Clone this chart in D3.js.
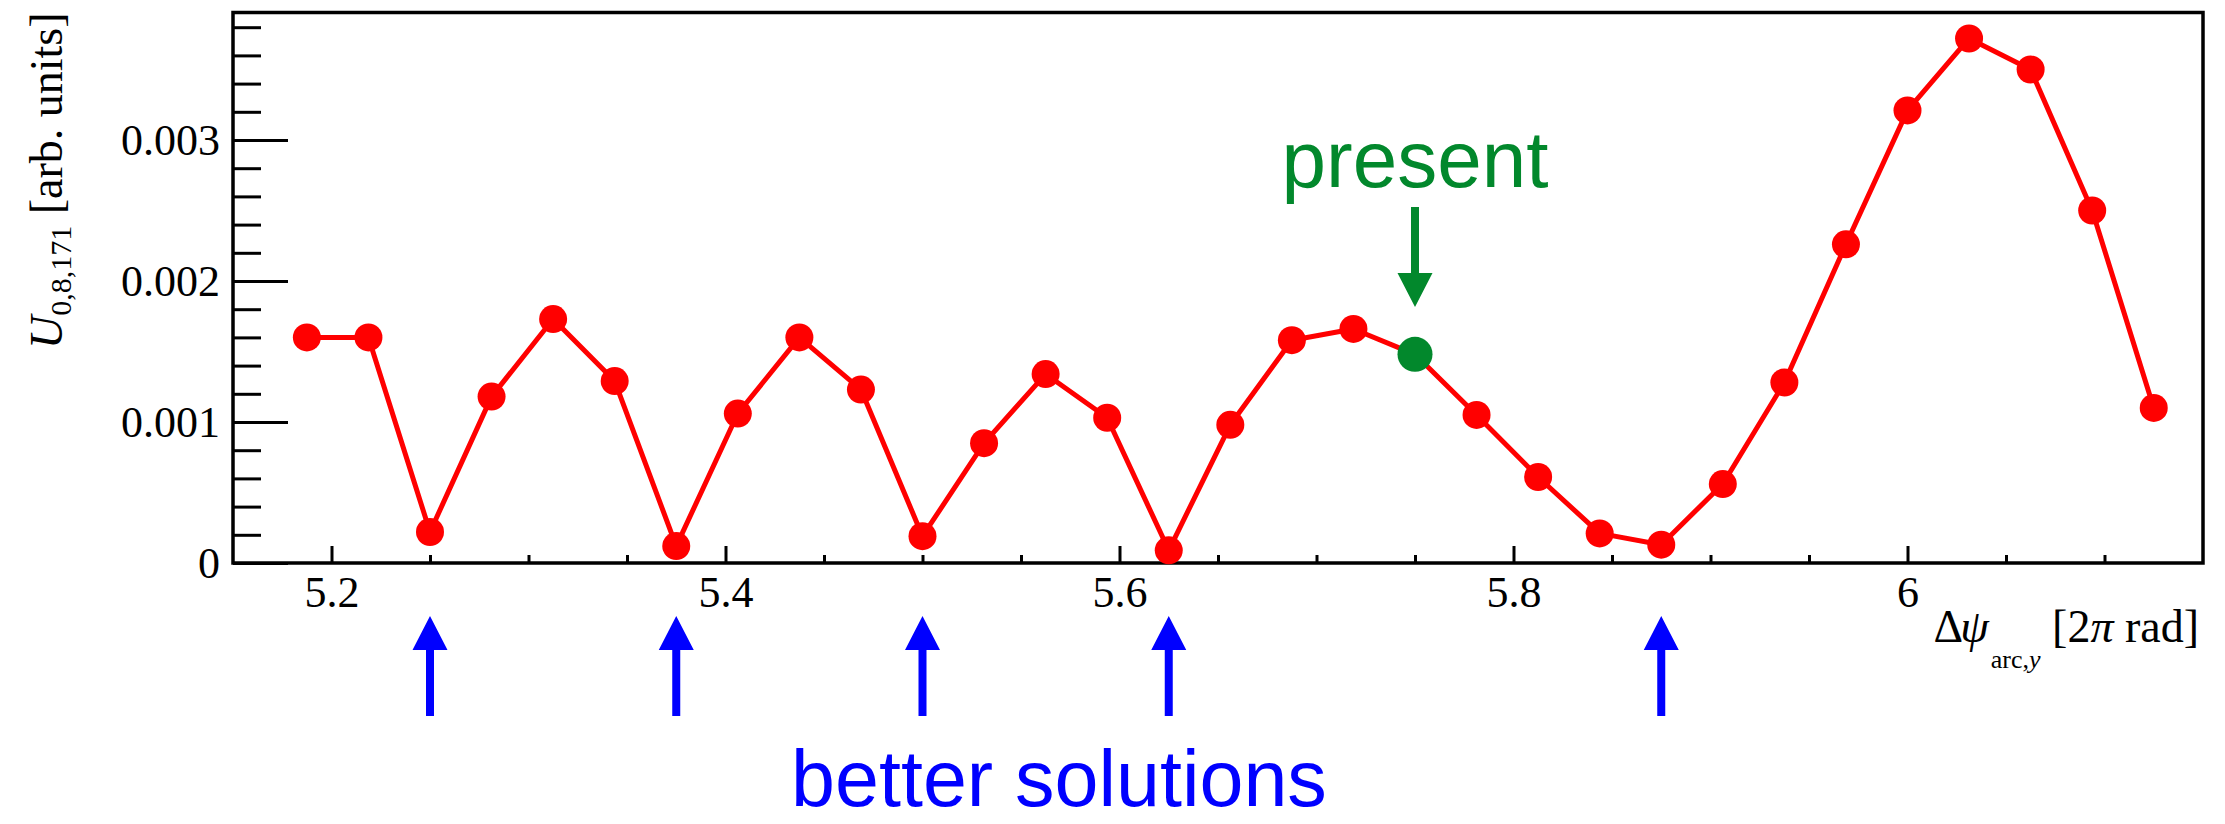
<!DOCTYPE html>
<html>
<head>
<meta charset="utf-8">
<script src="https://cdn.jsdelivr.net/npm/d3@7"></script>
<style>
  html, body { margin: 0; padding: 0; background: #ffffff; }
  svg { display: block; }
</style>
</head>
<body>
<svg id="chart" width="2225" height="824"></svg>
<script>
// Phase advance scan: amplitude of the 0,8,171 resonance driving term
const phaseAdvance = [5.1875, 5.21875, 5.25, 5.28125, 5.3125, 5.34375, 5.375, 5.40625,
  5.4375, 5.46875, 5.5, 5.53125, 5.5625, 5.59375, 5.625, 5.65625, 5.6875, 5.71875,
  5.75, 5.78125, 5.8125, 5.84375, 5.875, 5.90625, 5.9375, 5.96875, 6.0, 6.03125,
  6.0625, 6.09375, 6.125];
const drivingTerm = [0.00160, 0.00160, 0.00022, 0.00118, 0.00173, 0.00129, 0.00012, 0.00106,
  0.00160, 0.00123, 0.00019, 0.00085, 0.00134, 0.00103, 0.00009, 0.00098, 0.00158, 0.00166,
  0.00148, 0.00105, 0.00061, 0.00021, 0.00013, 0.00056, 0.00128, 0.00226, 0.00321, 0.00372,
  0.00350, 0.00250, 0.00110];

// Present working point and the lower-amplitude alternatives
const presentPhase = 5.75;
const presentTerm = 0.00148;
const betterPhases = [5.25, 5.375, 5.5, 5.625, 5.875];

// Axis ticks
const xMajorTicks = [5.2, 5.4, 5.6, 5.8, 6.0];
const xTickLabels = ["5.2", "5.4", "5.6", "5.8", "6"];
const yMajorTicks = [0, 0.001, 0.002, 0.003];
const yTickLabels = ["0", "0.001", "0.002", "0.003"];

const svg = d3.select("#chart");
const frame = { left: 233, right: 2203, top: 12.5, bottom: 563 };

const x = d3.scaleLinear().domain([5.15, 6.15]).range([frame.left, frame.right]);
const y = d3.scaleLinear().domain([0, 0.0039]).range([frame.bottom, frame.bottom - 0.0039 * 141000]);

const serif = "'Liberation Serif', 'Times New Roman', serif";
const sans = "'Liberation Sans', Arial, Helvetica, sans-serif";

// Minor ticks
const xMinor = d3.range(5.2, 6.1001, 0.05).filter(v => !xMajorTicks.some(m => Math.abs(m - v) < 1e-6));
const yMinor = d3.range(0, 0.00381, 0.0002).filter(v => !yMajorTicks.some(m => Math.abs(m - v) < 1e-9));

function styleAxis(g) {
  g.select(".domain").remove();
  g.selectAll(".tick line").attr("stroke", "#000").attr("stroke-width", 3);
}

// Bottom axis
svg.append("g")
  .attr("transform", `translate(0,${frame.bottom})`)
  .call(d3.axisBottom(x).tickValues(xMinor).tickSize(-8).tickFormat(""))
  .call(styleAxis);
const xAxisG = svg.append("g")
  .attr("transform", `translate(0,${frame.bottom})`)
  .call(d3.axisBottom(x).tickValues(xMajorTicks).tickSize(-17)
    .tickFormat((d, i) => xTickLabels[i]))
  .call(styleAxis);
xAxisG.selectAll(".tick text")
  .attr("y", 44).attr("dy", null)
  .attr("fill", "#000")
  .style("font-family", serif).style("font-size", "44px");

// Left axis
svg.append("g")
  .attr("transform", `translate(${frame.left},0)`)
  .call(d3.axisLeft(y).tickValues(yMinor).tickSize(-28).tickFormat(""))
  .call(styleAxis);
const yAxisG = svg.append("g")
  .attr("transform", `translate(${frame.left},0)`)
  .call(d3.axisLeft(y).tickValues(yMajorTicks).tickSize(-55)
    .tickFormat((d, i) => yTickLabels[i]))
  .call(styleAxis);
yAxisG.selectAll(".tick text")
  .attr("x", -13).attr("dy", "0.33em")
  .attr("fill", "#000")
  .style("font-family", serif).style("font-size", "44px");

// Frame
svg.append("rect")
  .attr("x", frame.left).attr("y", frame.top)
  .attr("width", frame.right - frame.left).attr("height", frame.bottom - frame.top)
  .attr("fill", "none").attr("stroke", "#000").attr("stroke-width", 3.5);

// Series
const points = phaseAdvance.map((p, i) => ({ p, u: drivingTerm[i] }));
const line = d3.line().x(d => x(d.p)).y(d => y(d.u));
svg.append("path")
  .datum(points)
  .attr("d", line)
  .attr("fill", "none")
  .attr("stroke", "#ff0000")
  .attr("stroke-width", 5)
  .attr("stroke-linejoin", "round");
svg.append("g").selectAll("circle")
  .data(points)
  .join("circle")
  .attr("cx", d => x(d.p)).attr("cy", d => y(d.u))
  .attr("r", 14)
  .attr("fill", "#ff0000");

// Present point
const green = "#02882c";
svg.append("circle")
  .attr("cx", x(presentPhase)).attr("cy", y(presentTerm))
  .attr("r", 17.5)
  .attr("fill", green);

// Arrow shapes: a narrow shaft with a triangular head
function arrowDown(cx, top, headBase, tip) {
  const s = 4, h = 17.5;
  return `M${cx - s},${top} L${cx + s},${top} L${cx + s},${headBase} L${cx + h},${headBase}
          L${cx},${tip} L${cx - h},${headBase} L${cx - s},${headBase} Z`;
}
function arrowUp(cx, tip, headBase, bottom) {
  const s = 4, h = 17.5;
  return `M${cx},${tip} L${cx + h},${headBase} L${cx + s},${headBase} L${cx + s},${bottom}
          L${cx - s},${bottom} L${cx - s},${headBase} L${cx - h},${headBase} Z`;
}
svg.append("path")
  .attr("d", arrowDown(x(presentPhase), 207, 273, 307))
  .attr("fill", green);
svg.append("text")
  .attr("x", x(presentPhase)).attr("y", 187)
  .attr("text-anchor", "middle")
  .attr("fill", green)
  .style("font-family", sans).style("font-size", "80px")
  .text("present");

// Upward arrows under the better solutions
svg.append("g").selectAll("path")
  .data(betterPhases)
  .join("path")
  .attr("d", d => arrowUp(x(d), 616, 650, 716))
  .attr("fill", "#0000ff");
svg.append("text")
  .attr("x", 1059).attr("y", 806)
  .attr("text-anchor", "middle")
  .attr("fill", "#0000ff")
  .style("font-family", sans).style("font-size", "79px")
  .text("better solutions");

// Y axis title
const yTitle = svg.append("text")
  .attr("transform", `translate(62,${frame.top}) rotate(-90)`)
  .attr("text-anchor", "end")
  .attr("fill", "#000")
  .style("font-family", serif).style("font-size", "46px");
yTitle.append("tspan").style("font-style", "italic").text("U");
yTitle.append("tspan").attr("dy", 9).style("font-size", "30px").text("0,8,171");
yTitle.append("tspan").attr("dy", -9).text(" [arb. units]");

// X axis title
const xTitle = svg.append("text")
  .attr("x", frame.right - 4).attr("y", 642)
  .attr("text-anchor", "end")
  .attr("fill", "#000")
  .style("font-family", serif).style("font-size", "46px");
xTitle.append("tspan").text("Δ");
xTitle.append("tspan").attr("dx", -3).style("font-style", "italic").text("ψ");
xTitle.append("tspan").attr("dx", 2).attr("dy", 26).style("font-size", "26px").text("arc,");
xTitle.append("tspan").style("font-size", "26px").style("font-style", "italic").text("y");
xTitle.append("tspan").attr("dy", -26).text(" [2");
xTitle.append("tspan").style("font-style", "italic").text("π");
xTitle.append("tspan").text(" rad]");
</script>
</body>
</html>
